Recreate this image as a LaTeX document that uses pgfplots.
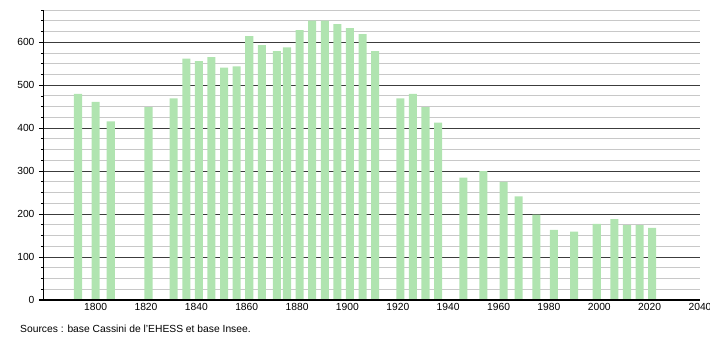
\documentclass[border=0pt]{standalone}
\usepackage{pgfplots}
\pgfplotsset{compat=1.18}
\usepackage{fontspec}
\setmainfont{Liberation Sans}
\definecolor{barg}{RGB}{176,228,176}
\definecolor{majg}{RGB}{60,60,60}
\definecolor{ming}{RGB}{200,200,200}
\begin{document}
\begin{tikzpicture}
\useasboundingbox (-44pt,-40pt) rectangle (666pt,300pt);
\begin{axis}[
  scale only axis, width=656pt, height=290pt,
  xmin=1779.5, xmax=2040, ymin=0, ymax=675,
  axis lines*=left,
  axis line style={black, line width=1pt},
  xtick={1800,1820,...,2040},
  minor x tick num=0,
  x tick style={draw=none},
  ytick={0,100,...,600},
  minor ytick={25,50,...,675},
  ymajorgrids, yminorgrids,
  major grid style={majg, line width=0.9pt},
  minor grid style={ming, line width=0.9pt},
  ytick align=outside,
  major tick length=5pt, minor tick length=3pt,
  major y tick style={black, line width=0.8pt},
  minor y tick style={black, line width=0.8pt},
  tick label style={font=\fontsize{10.3}{12}\selectfont},
  /pgf/number format/assume math mode=true,
  /pgf/number format/1000 sep={},
  yticklabel style={xshift=-1pt},
  clip=false,
]
\addplot[ybar, bar width=3.2, fill=barg, draw=none] coordinates {
(1793,480) (1800,461) (1806,416) (1821,449) (1831,469) (1836,562) (1841,556)
(1846,565) (1851,541) (1856,544) (1861,614) (1866,593) (1872,579) (1876,588)
(1881,628) (1886,650) (1891,650) (1896,642) (1901,633) (1906,619) (1911,579)
(1921,469) (1926,480) (1931,449) (1936,413) (1946,285) (1954,300) (1962,275)
(1968,241) (1975,199) (1982,163) (1990,159) (1999,177) (2006,188) (2011,174)
(2016,174) (2021,168)
};
\draw[black, line width=1.1pt] ([xshift=-5pt]axis cs:1779.5,0) -- (axis cs:2040,0);
\end{axis}
\node[anchor=west, font=\fontsize{10.3}{12}\selectfont, inner sep=0pt] at (-24pt,-29pt) {Sources : base Cassini de l'EHESS et base Insee.};
\end{tikzpicture}
\end{document}
